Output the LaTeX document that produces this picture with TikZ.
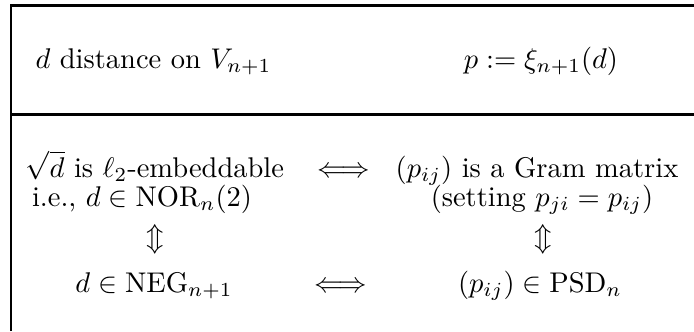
\documentclass[tikz,border=0pt]{standalone}
\usepackage{amsmath,amssymb}
\usetikzlibrary{positioning}

\begin{document}
\begin{tikzpicture}[
      x=0.351pt, y=-0.351pt,
      rule/.style={line width=0.75pt},
      entry/.style={inner sep=0pt, anchor=base},
      equiv/.style={inner sep=0pt}
    ]
      \useasboundingbox (0,0) rectangle (694,331);

      % frame
      \coordinate (tl) at (11,5.5);
      \coordinate (tr) at (694,5.5);
      \coordinate (bl) at (11,331);
      \coordinate (ml) at (11,114.5);
      \coordinate (mr) at (694,114.5);
      \draw[rule] (bl) -- (tl) -- (tr);
      \draw[rule] (ml) -- (mr);

      % header
      \node[entry, anchor=base west] (dist) at (35,68)
        {$d$ distance on $V_{n+1}$};
      \node[entry] (xi) at (541,68) {$p := \xi_{n+1}(d)$};

      % left column
      \node[entry] (embed) at (155,177)
        {$\sqrt{d}$ is $\ell_2$-embeddable};
      \node[entry] (nor) at (142,206) {i.e., $d \in \mathrm{NOR}_n(2)$};
      \node[equiv] (leftud) at (155,239) {$\Updownarrow$};
      \node[entry] (neg) at (154,292) {$d \in \mathrm{NEG}_{n+1}$};

      % right column
      \node[entry] (gram) at (537,177) {$(p_{ij})$ is a Gram matrix};
      \node[entry] (setting) at (542,206) {(setting $p_{ji} = p_{ij}$)};
      \node[equiv] (rightud) at (543,239) {$\Updownarrow$};
      \node[entry] (psd) at (540,292) {$(p_{ij}) \in \mathrm{PSD}_n$};

      % equivalences across
      \node[entry] (iffa) at (344,177) {$\Longleftrightarrow$};
      \node[entry] (iffb) at (341,292) {$\Longleftrightarrow$};
    \end{tikzpicture}
\end{document}
